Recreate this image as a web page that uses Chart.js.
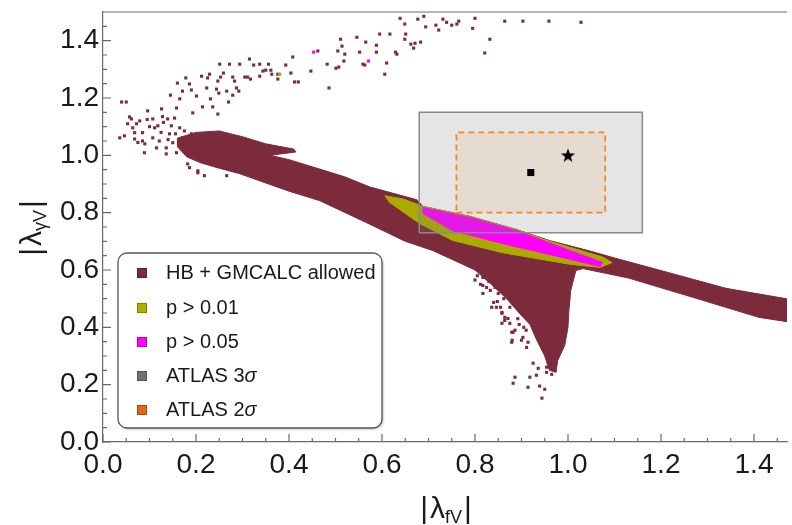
<!DOCTYPE html>
<html>
<head>
<meta charset="utf-8">
<script src="https://cdn.jsdelivr.net/npm/chart.js@4"></script>
<style>
  html, body { margin: 0; padding: 0; background: #fff; }
</style>
</head>
<body>
<canvas id="plot" width="792" height="525"></canvas>
<script>
// dense region of allowed points (outline)
const hbRegion = [
  [0.16, 1.06], [0.20, 1.08], [0.25, 1.085], [0.30, 1.065], [0.35, 1.04], [0.41, 1.022],
  [0.415, 1.012], [0.36, 1.0], [0.40, 0.985], [0.45, 0.96], [0.52, 0.925], [0.573, 0.89],
  [0.675, 0.845], [0.688, 0.822], [0.79, 0.787], [0.89, 0.741], [0.96, 0.703], [1.05, 0.665],
  [1.10, 0.642], [1.20, 0.598], [1.34, 0.536], [1.49, 0.494], [1.49, 0.415], [1.41, 0.435],
  [1.27, 0.504], [1.13, 0.572], [1.032, 0.605], [1.017, 0.598], [1.006, 0.529], [1.002, 0.459],
  [1.0, 0.40], [0.993, 0.337], [0.978, 0.285], [0.974, 0.243], [0.96, 0.25], [0.95, 0.30],
  [0.933, 0.355], [0.918, 0.41], [0.895, 0.45], [0.868, 0.50], [0.835, 0.55], [0.80, 0.60],
  [0.78, 0.615], [0.709, 0.668], [0.65, 0.70], [0.567, 0.765], [0.466, 0.842], [0.40, 0.875],
  [0.337, 0.911], [0.294, 0.936], [0.25, 0.955], [0.208, 0.975], [0.18, 0.995], [0.16, 1.03]
];

// scattered allowed points
const hbPoints = [
  [0.639, 1.478], [0.649, 1.458], [0.677, 1.475], [0.69, 1.485], [0.694, 1.448], [0.716, 1.454],
  [0.722, 1.437], [0.731, 1.475], [0.739, 1.464], [0.75, 1.454], [0.761, 1.458], [0.765, 1.468],
  [0.80, 1.478], [0.795, 1.443], [0.864, 1.468], [0.903, 1.468], [0.959, 1.468], [1.028, 1.464],
  [0.832, 1.405], [0.821, 1.357], [0.651, 1.423], [0.649, 1.405], [0.617, 1.423], [0.595, 1.423],
  [0.565, 1.395], [0.546, 1.412], [0.511, 1.405], [0.514, 1.381], [0.505, 1.364], [0.52, 1.353],
  [0.552, 1.36], [0.588, 1.384], [0.588, 1.36], [0.629, 1.36], [0.632, 1.353], [0.662, 1.388],
  [0.668, 1.374], [0.671, 1.391], [0.683, 1.395], [0.61, 1.322], [0.606, 1.283], [0.518, 1.329],
  [0.507, 1.308], [0.501, 1.304], [0.482, 1.318], [0.486, 1.235], [0.559, 1.318], [0.563, 1.315],
  [0.447, 1.294], [0.462, 1.364], [0.408, 1.343], [0.393, 1.315], [0.404, 1.287], [0.412, 1.256],
  [0.42, 1.256], [0.376, 1.283], [0.376, 1.266], [0.361, 1.297], [0.356, 1.318], [0.35, 1.297],
  [0.344, 1.294], [0.337, 1.318], [0.337, 1.276], [0.324, 1.315], [0.363, 1.283], [0.317, 1.266],
  [0.315, 1.336], [0.311, 1.273], [0.305, 1.273], [0.294, 1.318], [0.272, 1.318], [0.251, 1.318],
  [0.259, 1.287], [0.253, 1.273], [0.279, 1.273], [0.283, 1.259], [0.287, 1.235], [0.292, 1.224],
  [0.279, 1.21], [0.27, 1.186], [0.247, 1.259], [0.244, 1.231], [0.249, 1.217], [0.266, 1.224],
  [0.229, 1.283], [0.225, 1.27], [0.212, 1.276], [0.223, 1.235], [0.231, 1.197], [0.214, 1.169],
  [0.236, 1.169], [0.247, 1.144], [0.201, 1.207], [0.186, 1.249], [0.178, 1.27], [0.19, 1.228],
  [0.171, 1.224], [0.16, 1.252], [0.158, 1.165], [0.165, 1.197], [0.145, 1.21], [0.193, 1.148],
  [0.126, 1.162], [0.096, 1.155], [0.04, 1.186], [0.05, 1.186],
  [0.036, 1.061], [0.046, 1.068], [0.057, 1.134], [0.061, 1.127], [0.053, 1.11], [0.064, 1.096],
  [0.068, 1.079], [0.068, 1.057], [0.079, 1.12], [0.085, 1.079], [0.085, 1.05], [0.089, 1.009],
  [0.107, 1.127], [0.111, 1.096], [0.107, 1.061], [0.118, 1.103], [0.121, 1.05], [0.115, 1.026],
  [0.136, 1.026], [0.139, 1.127], [0.147, 1.103], [0.143, 1.075], [0.15, 1.044], [0.154, 1.13],
  [0.165, 1.096], [0.175, 1.085], [0.171, 1.061], [0.165, 1.04], [0.158, 1.009], [0.186, 0.957],
  [0.182, 0.97], [0.204, 0.939], [0.218, 0.929], [0.18, 1.023], [0.19, 1.075], [0.136, 1.005],
  [0.266, 0.929], [0.204, 0.946], [0.125, 1.08], [0.13, 1.115], [0.10, 1.10], [0.09, 1.04],
  [0.075, 1.045], [0.156, 1.075], [0.14, 1.055], [0.128, 1.135], [0.095, 1.125], [0.072, 1.11],
  [0.817, 0.518], [0.825, 0.539], [0.836, 0.47], [0.843, 0.563], [0.85, 0.518], [0.858, 0.449],
  [0.858, 0.414], [0.864, 0.424], [0.871, 0.431], [0.879, 0.383], [0.886, 0.39], [0.879, 0.348],
  [0.90, 0.355], [0.903, 0.365], [0.914, 0.348], [0.925, 0.275], [0.936, 0.257], [0.932, 0.233],
  [0.918, 0.226], [0.914, 0.191], [0.886, 0.226], [0.882, 0.205], [0.939, 0.195], [0.95, 0.184],
  [0.944, 0.153], [0.954, 0.243], [0.965, 0.236], [0.972, 0.25], [0.954, 0.261], [0.976, 0.417],
  [0.817, 0.546], [0.868, 0.553], [0.889, 0.546], [0.821, 0.574], [0.817, 0.574], [0.833, 0.529],
  [0.84, 0.487], [0.846, 0.47], [0.858, 0.452], [0.864, 0.435], [0.875, 0.414], [0.882, 0.383],
  [0.88, 0.355], [0.911, 0.33], [0.889, 0.511], [0.871, 0.553], [0.853, 0.563], [0.843, 0.539],
  [0.805, 0.58], [0.83, 0.56], [0.862, 0.5], [0.875, 0.47], [0.895, 0.41], [0.91, 0.39],
  [0.80, 0.565], [0.812, 0.55], [0.848, 0.49], [0.855, 0.47], [0.892, 0.43], [0.905, 0.40]
];

const p01Region = [
  [0.606, 0.859], [0.645, 0.848], [0.688, 0.822], [0.79, 0.786], [0.89, 0.74], [0.961, 0.70],
  [1.075, 0.645], [1.095, 0.626], [1.069, 0.609], [1.004, 0.62], [0.86, 0.66], [0.752, 0.703],
  [0.681, 0.762], [0.617, 0.835]
];
const p01Points = [[0.38, 1.283]];

const p05Region = [
  [0.688, 0.818], [0.789, 0.783], [0.89, 0.737], [1.004, 0.668], [1.075, 0.626], [1.069, 0.612],
  [0.976, 0.648], [0.86, 0.692], [0.752, 0.737], [0.688, 0.797]
];
const p05Points = [[0.453, 1.36], [0.571, 1.329]];

// ATLAS ranges
const atlas3X = [0.68, 1.16];
const atlas3Y = [0.73, 1.15];
const atlas2X = [0.76, 1.08];
const atlas2Y = [0.80, 1.08];
const bestFit = [0.92, 0.94];
const smPoint = [1.0, 1.0];

const legendLabels = ['HB + GMCALC allowed', 'p > 0.01', 'p > 0.05', 'ATLAS 3σ', 'ATLAS 2σ'];
const legendColors = ['#7b2b3b', '#afaf00', '#ff00ff', '#707070', '#e0661a'];

const xTitle = ['λ', 'fV'];
const yTitle = ['λ', 'γV'];

const maroon = '#7b2b3b';
const toXY = arr => arr.map(p => ({x: p[0], y: p[1]}));
const closed = arr => toXY(arr.concat([arr[0]]));
const rect = (xs, ys) => closed([[xs[0], ys[0]], [xs[1], ys[0]], [xs[1], ys[1]], [xs[0], ys[1]]]);

// filled 5 point star for the SM marker
const star = document.createElement('canvas');
star.width = 16; star.height = 16;
(function () {
  const c = star.getContext('2d');
  c.fillStyle = '#000';
  c.beginPath();
  for (let i = 0; i < 10; i++) {
    const r = i % 2 ? 3 : 7.5;
    const a = -Math.PI / 2 + i * Math.PI / 5;
    c.lineTo(8 + r * Math.cos(a), 8.5 + r * Math.sin(a));
  }
  c.closePath();
  c.fill();
})();

const region = (data, color, order) => ({
  data: closed(data), showLine: true, fill: 'shape', tension: 0,
  backgroundColor: color, borderColor: color, borderWidth: 1, pointRadius: 0, order: order
});
const dots = (data, color, order) => ({
  data: toXY(data), pointStyle: 'rect', pointRadius: 2.2, pointBorderWidth: 0,
  backgroundColor: color, borderColor: color, order: order
});

const tickFont = {family: 'Liberation Sans', size: 28};

const insideTicks = {
  id: 'insideTicks',
  afterDraw(chart) {
    const {ctx, chartArea: a} = chart;
    const x = chart.scales.x, y = chart.scales.y;
    ctx.save();
    ctx.strokeStyle = '#6a6a6a';
    ctx.lineWidth = 1.2;
    ctx.beginPath();
    ctx.moveTo(a.left, a.top); ctx.lineTo(a.right, a.top);
    for (let i = 0; i <= 30; i++) {
      const v = i * 0.05;
      const len = i % 4 === 0 ? 8 : 4;
      const px = x.getPixelForValue(v);
      if (px <= a.right) { ctx.moveTo(px, a.bottom); ctx.lineTo(px, a.bottom - len); }
      const py = y.getPixelForValue(v);
      if (py >= a.top) { ctx.moveTo(a.left, py); ctx.lineTo(a.left + len, py); }
    }
    ctx.stroke();
    ctx.restore();
  }
};

function drawTitle(ctx, parts, cx, cy) {
  const main = '30px "Liberation Sans"', sub = '18px "Liberation Sans"';
  ctx.font = main; const wBar = ctx.measureText('|').width; const wL = ctx.measureText(parts[0]).width;
  ctx.font = sub; const wS = ctx.measureText(parts[1]).width;
  const total = wBar * 2 + wL + wS + 6;
  let x0 = cx - total / 2;
  ctx.textBaseline = 'alphabetic';
  ctx.textAlign = 'left';
  ctx.font = main;
  ctx.fillText('|', x0, cy + 10); x0 += wBar + 2;
  ctx.fillText(parts[0], x0, cy + 10); x0 += wL;
  ctx.font = sub;
  ctx.fillText(parts[1], x0, cy + 15); x0 += wS + 2;
  ctx.font = main;
  ctx.fillText('|', x0, cy + 10);
}

const decorations = {
  id: 'decorations',
  afterDraw(chart) {
    const ctx = chart.ctx;
    ctx.save();
    ctx.fillStyle = '#1a1a1a';
    drawTitle(ctx, xTitle, 447, 508);
    ctx.save();
    ctx.translate(31, 227);
    ctx.rotate(-Math.PI / 2);
    drawTitle(ctx, yTitle, 0, 0);
    ctx.restore();

    // legend box
    const bx = 118, by = 253, bw = 264, bh = 175, r = 9;
    ctx.shadowColor = 'rgba(0,0,0,0.25)';
    ctx.shadowOffsetX = 1.5; ctx.shadowOffsetY = 1.5; ctx.shadowBlur = 2;
    ctx.beginPath();
    ctx.roundRect(bx, by, bw, bh, r);
    ctx.fillStyle = '#fff';
    ctx.fill();
    ctx.shadowColor = 'transparent';
    ctx.strokeStyle = '#555';
    ctx.lineWidth = 1.3;
    ctx.stroke();
    const rows = [273, 308, 342, 376, 410];
    ctx.textBaseline = 'middle';
    ctx.textAlign = 'left';
    legendLabels.forEach((lab, i) => {
      ctx.fillStyle = legendColors[i];
      ctx.fillRect(137, rows[i] - 5, 10, 10);
      ctx.strokeStyle = 'rgba(0,0,0,0.25)';
      ctx.lineWidth = 1;
      ctx.strokeRect(137.5, rows[i] - 4.5, 9, 9);
      ctx.fillStyle = '#1a1a1a';
      ctx.font = '20px "Liberation Sans"';
      if (lab.endsWith('σ')) {
        const head = lab.slice(0, -1);
        ctx.fillText(head, 166, rows[i]);
        const w = ctx.measureText(head).width;
        ctx.font = 'italic 20px "Liberation Sans"';
        ctx.fillText('σ', 166 + w, rows[i]);
      } else {
        ctx.fillText(lab, 166, rows[i]);
      }
    });
    ctx.restore();
  }
};

new Chart(document.getElementById('plot'), {
  type: 'scatter',
  data: {
    datasets: [
      region(hbRegion, maroon, 10),
      dots(hbPoints, maroon, 9),
      region(p01Region, '#aaaa00', 8),
      dots(p01Points, '#aaaa00', 7),
      region(p05Region, '#ff00ff', 6),
      dots(p05Points, '#ff00ff', 5),
      {
        data: rect(atlas3X, atlas3Y), showLine: true, fill: 'shape', tension: 0, pointRadius: 0,
        backgroundColor: 'rgba(125,125,125,0.2)', borderColor: '#8a8a8a', borderWidth: 1.5, order: 4
      },
      {
        data: rect(atlas2X, atlas2Y), showLine: true, fill: 'shape', tension: 0, pointRadius: 0,
        backgroundColor: 'rgba(240,140,40,0.11)', borderColor: '#f08a24', borderWidth: 1.8,
        borderDash: [6, 4], order: 3
      },
      {
        data: toXY([bestFit]), pointStyle: 'rect', pointRadius: 5, pointBorderWidth: 0,
        backgroundColor: '#000', order: 2
      },
      {
        data: toXY([smPoint]), pointStyle: star, order: 1
      }
    ]
  },
  options: {
    responsive: false,
    animation: false,
    layout: {padding: {top: 12, right: 0, left: 0, bottom: 0}},
    plugins: {
      legend: {display: false},
      tooltip: {enabled: false}
    },
    scales: {
      x: {
        type: 'linear',
        min: 0,
        max: 1.471,
        afterFit: s => { s.height = 83; s.paddingLeft = 0; s.paddingRight = 0; },
        grid: {display: false, drawTicks: false},
        border: {display: true, color: '#6a6a6a', width: 1.2},
        ticks: {
          stepSize: 0.2, includeBounds: false, padding: 6, color: '#1a1a1a', font: tickFont,
          maxRotation: 0, callback: v => v.toFixed(1)
        }
      },
      y: {
        min: 0,
        max: 1.5,
        afterFit: s => { s.width = 103; s.paddingTop = 0; s.paddingBottom = 0; },
        grid: {display: false, drawTicks: false},
        border: {display: true, color: '#6a6a6a', width: 1.2},
        ticks: {
          stepSize: 0.2, includeBounds: false, padding: 4, color: '#1a1a1a', font: tickFont,
          callback: v => v.toFixed(1)
        }
      }
    }
  },
  plugins: [insideTicks, decorations]
});
</script>
</body>
</html>
